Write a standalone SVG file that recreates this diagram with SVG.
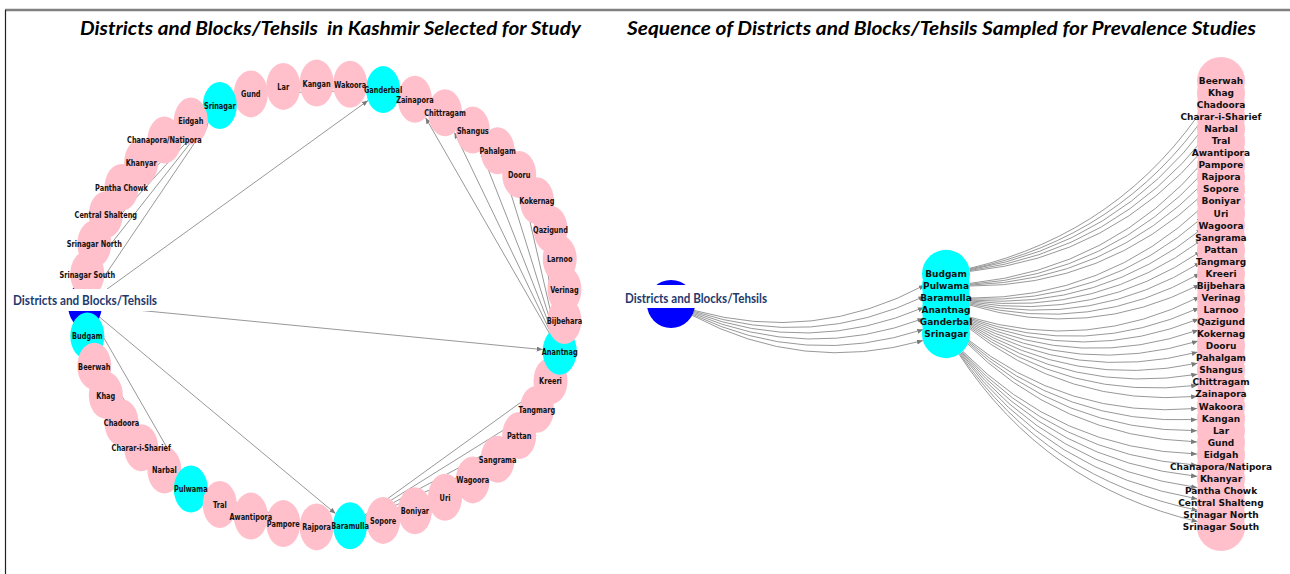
<svg xmlns="http://www.w3.org/2000/svg" width="1290" height="574" viewBox="0 0 1290 574">
<style>
.title{font-family:Lato,"Liberation Sans",sans-serif;font-weight:bold;font-style:italic;font-size:18px;fill:#000;text-anchor:middle;white-space:pre}
.root-label{font-family:Lato,"Open Sans","Liberation Sans",sans-serif;font-weight:bold;font-size:13px;fill:#1f3a6e;text-anchor:middle;dominant-baseline:central}
.tl{font-family:"DejaVu Sans",sans-serif;font-weight:bold;font-size:9.4px;fill:#111;text-anchor:middle;dominant-baseline:central}
.tr{font-family:"DejaVu Sans",sans-serif;font-weight:bold;font-size:9px;fill:#111;text-anchor:middle;dominant-baseline:central}
.p{fill:#ffc0cb}
.c{fill:#00ffff}
.b{fill:#0000ff}
.e line,.e path{stroke:#8c8c8c;stroke-width:0.9;fill:none;marker-end:url(#arr)}
</style>
<defs>
<marker id="arr" markerWidth="6" markerHeight="5" refX="6" refY="2.5" orient="auto" markerUnits="userSpaceOnUse"><path d="M0,0 L6,2.5 L0,5 z" fill="#7a7a7a"/></marker>
</defs>
<rect width="1290" height="574" fill="#fff"/>
<g id="frame">
<line x1="5" y1="10" x2="1290" y2="10" stroke="#808080" stroke-width="2.5"/>
<line x1="5.5" y1="10" x2="5.5" y2="574" stroke="#222" stroke-width="1.2"/>
<text class="title" x="330.5" y="35" textLength="501" lengthAdjust="spacingAndGlyphs" xml:space="preserve">Districts and Blocks/Tehsils  in Kashmir Selected for Study</text>
<text class="title" x="941.5" y="35" textLength="629" lengthAdjust="spacingAndGlyphs">Sequence of Districts and Blocks/Tehsils Sampled for Prevalence Studies</text>
</g>

<g id="left-connectors" class="e">
<line x1="85" y1="305" x2="85.5" y2="312.0"/>
<line x1="85" y1="305" x2="180.1" y2="470.4"/>
<line x1="85" y1="305" x2="335.5" y2="513.6"/>
<line x1="85" y1="305" x2="542.7" y2="349.6"/>
<line x1="85" y1="305" x2="368.0" y2="100.5"/>
<line x1="85" y1="305" x2="208.1" y2="122.9"/>
<line x1="87.3" y1="335.9" x2="89.0" y2="343.4"/>
<line x1="87.3" y1="335.9" x2="99.0" y2="373.3"/>
<line x1="87.3" y1="335.9" x2="113.2" y2="401.6"/>
<line x1="87.3" y1="335.9" x2="131.6" y2="427.9"/>
<line x1="87.3" y1="335.9" x2="153.7" y2="451.4"/>
<line x1="190.8" y1="489" x2="203.9" y2="496.0"/>
<line x1="190.8" y1="489" x2="234.6" y2="508.8"/>
<line x1="190.8" y1="489" x2="266.9" y2="517.5"/>
<line x1="190.8" y1="489" x2="300.0" y2="521.9"/>
<line x1="350.1" y1="525.8" x2="366.2" y2="523.2"/>
<line x1="350.1" y1="525.8" x2="398.1" y2="514.7"/>
<line x1="350.1" y1="525.8" x2="428.4" y2="502.3"/>
<line x1="350.1" y1="525.8" x2="456.4" y2="486.0"/>
<line x1="350.1" y1="525.8" x2="481.4" y2="466.5"/>
<line x1="350.1" y1="525.8" x2="503.3" y2="444.0"/>
<line x1="350.1" y1="525.8" x2="521.4" y2="418.9"/>
<line x1="350.1" y1="525.8" x2="535.4" y2="391.8"/>
<line x1="559.7" y1="351.2" x2="560.8" y2="344.0"/>
<line x1="559.7" y1="351.2" x2="562.6" y2="313.4"/>
<line x1="559.7" y1="351.2" x2="559.7" y2="282.8"/>
<line x1="559.7" y1="351.2" x2="552.3" y2="253.0"/>
<line x1="559.7" y1="351.2" x2="540.5" y2="224.3"/>
<line x1="559.7" y1="351.2" x2="524.4" y2="197.3"/>
<line x1="559.7" y1="351.2" x2="504.4" y2="172.8"/>
<line x1="559.7" y1="351.2" x2="481.0" y2="151.1"/>
<line x1="559.7" y1="351.2" x2="454.5" y2="132.6"/>
<line x1="559.7" y1="351.2" x2="425.6" y2="117.8"/>
<line x1="383.1" y1="89.6" x2="367.0" y2="87.0"/>
<line x1="383.1" y1="89.6" x2="333.6" y2="84.8"/>
<line x1="383.1" y1="89.6" x2="300.3" y2="86.9"/>
<line x1="383.1" y1="89.6" x2="267.8" y2="93.4"/>
<line x1="219.8" y1="105.5" x2="206.7" y2="112.5"/>
<line x1="219.8" y1="105.5" x2="180.0" y2="130.3"/>
<line x1="219.8" y1="105.5" x2="156.3" y2="151.4"/>
<line x1="219.8" y1="105.5" x2="136.1" y2="175.2"/>
<line x1="219.8" y1="105.5" x2="119.9" y2="201.2"/>
<line x1="219.8" y1="105.5" x2="107.7" y2="229.0"/>
<line x1="219.8" y1="105.5" x2="99.9" y2="258.0"/>
</g>

<g id="left-nodes">
<g id="L-root"><ellipse class="b" cx="85" cy="305" rx="17" ry="23.5"/></g>
<g id="L-Budgam"><ellipse class="c" cx="87.3" cy="335.9" rx="17" ry="23.5"/></g>
<g id="L-Beerwah"><ellipse class="p" cx="94.3" cy="366.2" rx="17" ry="23.5"/></g>
<g id="L-Khag"><ellipse class="p" cx="105.8" cy="395.3" rx="17" ry="23.5"/></g>
<g id="L-Chadoora"><ellipse class="p" cx="121.5" cy="422.6" rx="17" ry="23.5"/></g>
<g id="L-Charar-i-Sharief"><ellipse class="p" cx="141.2" cy="447.7" rx="17" ry="23.5"/></g>
<g id="L-Narbal"><ellipse class="p" cx="164.4" cy="470.0" rx="17" ry="23.5"/></g>
<g id="L-Pulwama"><ellipse class="c" cx="190.8" cy="489.0" rx="17" ry="23.5"/></g>
<g id="L-Tral"><ellipse class="p" cx="219.8" cy="504.5" rx="17" ry="23.5"/></g>
<g id="L-Awantipora"><ellipse class="p" cx="250.8" cy="516.1" rx="17" ry="23.5"/></g>
<g id="L-Pampore"><ellipse class="p" cx="283.3" cy="523.6" rx="17" ry="23.5"/></g>
<g id="L-Rajpora"><ellipse class="p" cx="316.6" cy="526.9" rx="17" ry="23.5"/></g>
<g id="L-Baramulla"><ellipse class="c" cx="350.1" cy="525.8" rx="17" ry="23.5"/></g>
<g id="L-Sopore"><ellipse class="p" cx="383.1" cy="520.4" rx="17" ry="23.5"/></g>
<g id="L-Boniyar"><ellipse class="p" cx="414.9" cy="510.8" rx="17" ry="23.5"/></g>
<g id="L-Uri"><ellipse class="p" cx="445.0" cy="497.3" rx="17" ry="23.5"/></g>
<g id="L-Wagoora"><ellipse class="p" cx="472.8" cy="479.9" rx="17" ry="23.5"/></g>
<g id="L-Sangrama"><ellipse class="p" cx="497.6" cy="459.2" rx="17" ry="23.5"/></g>
<g id="L-Pattan"><ellipse class="p" cx="519.2" cy="435.5" rx="17" ry="23.5"/></g>
<g id="L-Tangmarg"><ellipse class="p" cx="536.9" cy="409.2" rx="17" ry="23.5"/></g>
<g id="L-Kreeri"><ellipse class="p" cx="550.5" cy="380.9" rx="17" ry="23.5"/></g>
<g id="L-Anantnag"><ellipse class="c" cx="559.7" cy="351.2" rx="17" ry="23.5"/></g>
<g id="L-Bijbehara"><ellipse class="p" cx="564.4" cy="320.5" rx="17" ry="23.5"/></g>
<g id="L-Verinag"><ellipse class="p" cx="564.4" cy="289.5" rx="17" ry="23.5"/></g>
<g id="L-Larnoo"><ellipse class="p" cx="559.7" cy="258.8" rx="17" ry="23.5"/></g>
<g id="L-Qazigund"><ellipse class="p" cx="550.5" cy="229.1" rx="17" ry="23.5"/></g>
<g id="L-Kokernag"><ellipse class="p" cx="536.9" cy="200.8" rx="17" ry="23.5"/></g>
<g id="L-Dooru"><ellipse class="p" cx="519.2" cy="174.5" rx="17" ry="23.5"/></g>
<g id="L-Pahalgam"><ellipse class="p" cx="497.6" cy="150.8" rx="17" ry="23.5"/></g>
<g id="L-Shangus"><ellipse class="p" cx="472.8" cy="130.1" rx="17" ry="23.5"/></g>
<g id="L-Chittragam"><ellipse class="p" cx="445.0" cy="112.7" rx="17" ry="23.5"/></g>
<g id="L-Zainapora"><ellipse class="p" cx="414.9" cy="99.2" rx="17" ry="23.5"/></g>
<g id="L-Ganderbal"><ellipse class="c" cx="383.1" cy="89.6" rx="17" ry="23.5"/></g>
<g id="L-Wakoora"><ellipse class="p" cx="350.1" cy="84.2" rx="17" ry="23.5"/></g>
<g id="L-Kangan"><ellipse class="p" cx="316.6" cy="83.1" rx="17" ry="23.5"/></g>
<g id="L-Lar"><ellipse class="p" cx="283.3" cy="86.4" rx="17" ry="23.5"/></g>
<g id="L-Gund"><ellipse class="p" cx="250.8" cy="93.9" rx="17" ry="23.5"/></g>
<g id="L-Srinagar"><ellipse class="c" cx="219.8" cy="105.5" rx="17" ry="23.5"/></g>
<g id="L-Eidgah"><ellipse class="p" cx="190.8" cy="121.0" rx="17" ry="23.5"/></g>
<g id="L-Chanapora-Natipora"><ellipse class="p" cx="164.4" cy="140.0" rx="17" ry="23.5"/></g>
<g id="L-Khanyar"><ellipse class="p" cx="141.2" cy="162.3" rx="17" ry="23.5"/></g>
<g id="L-Pantha-Chowk"><ellipse class="p" cx="121.5" cy="187.4" rx="17" ry="23.5"/></g>
<g id="L-Central-Shalteng"><ellipse class="p" cx="105.8" cy="214.7" rx="17" ry="23.5"/></g>
<g id="L-Srinagar-North"><ellipse class="p" cx="94.3" cy="243.8" rx="17" ry="23.5"/></g>
<g id="L-Srinagar-South"><ellipse class="p" cx="87.3" cy="274.1" rx="17" ry="23.5"/></g>
</g>

<g id="left-labels">
<rect x="10" y="289" width="150" height="22" fill="#fff"/>
<text class="root-label" x="85" y="300" textLength="144" lengthAdjust="spacingAndGlyphs">Districts and Blocks/Tehsils</text>
<text class="tl" transform="translate(87.3 335.9) scale(0.7 1)">Budgam</text>
<text class="tl" transform="translate(94.3 366.2) scale(0.7 1)">Beerwah</text>
<text class="tl" transform="translate(105.8 395.3) scale(0.7 1)">Khag</text>
<text class="tl" transform="translate(121.5 422.6) scale(0.7 1)">Chadoora</text>
<text class="tl" transform="translate(141.2 447.7) scale(0.7 1)">Charar-i-Sharief</text>
<text class="tl" transform="translate(164.4 470.0) scale(0.7 1)">Narbal</text>
<text class="tl" transform="translate(190.8 489.0) scale(0.7 1)">Pulwama</text>
<text class="tl" transform="translate(219.8 504.5) scale(0.7 1)">Tral</text>
<text class="tl" transform="translate(250.8 516.1) scale(0.7 1)">Awantipora</text>
<text class="tl" transform="translate(283.3 523.6) scale(0.7 1)">Pampore</text>
<text class="tl" transform="translate(316.6 526.9) scale(0.7 1)">Rajpora</text>
<text class="tl" transform="translate(350.1 525.8) scale(0.7 1)">Baramulla</text>
<text class="tl" transform="translate(383.1 520.4) scale(0.7 1)">Sopore</text>
<text class="tl" transform="translate(414.9 510.8) scale(0.7 1)">Boniyar</text>
<text class="tl" transform="translate(445.0 497.3) scale(0.7 1)">Uri</text>
<text class="tl" transform="translate(472.8 479.9) scale(0.7 1)">Wagoora</text>
<text class="tl" transform="translate(497.6 459.2) scale(0.7 1)">Sangrama</text>
<text class="tl" transform="translate(519.2 435.5) scale(0.7 1)">Pattan</text>
<text class="tl" transform="translate(536.9 409.2) scale(0.7 1)">Tangmarg</text>
<text class="tl" transform="translate(550.5 380.9) scale(0.7 1)">Kreeri</text>
<text class="tl" transform="translate(559.7 351.2) scale(0.7 1)">Anantnag</text>
<text class="tl" transform="translate(564.4 320.5) scale(0.7 1)">Bijbehara</text>
<text class="tl" transform="translate(564.4 289.5) scale(0.7 1)">Verinag</text>
<text class="tl" transform="translate(559.7 258.8) scale(0.7 1)">Larnoo</text>
<text class="tl" transform="translate(550.5 229.1) scale(0.7 1)">Qazigund</text>
<text class="tl" transform="translate(536.9 200.8) scale(0.7 1)">Kokernag</text>
<text class="tl" transform="translate(519.2 174.5) scale(0.7 1)">Dooru</text>
<text class="tl" transform="translate(497.6 150.8) scale(0.7 1)">Pahalgam</text>
<text class="tl" transform="translate(472.8 130.1) scale(0.7 1)">Shangus</text>
<text class="tl" transform="translate(445.0 112.7) scale(0.7 1)">Chittragam</text>
<text class="tl" transform="translate(414.9 99.2) scale(0.7 1)">Zainapora</text>
<text class="tl" transform="translate(383.1 89.6) scale(0.7 1)">Ganderbal</text>
<text class="tl" transform="translate(350.1 84.2) scale(0.7 1)">Wakoora</text>
<text class="tl" transform="translate(316.6 83.1) scale(0.7 1)">Kangan</text>
<text class="tl" transform="translate(283.3 86.4) scale(0.7 1)">Lar</text>
<text class="tl" transform="translate(250.8 93.9) scale(0.7 1)">Gund</text>
<text class="tl" transform="translate(219.8 105.5) scale(0.7 1)">Srinagar</text>
<text class="tl" transform="translate(190.8 121.0) scale(0.7 1)">Eidgah</text>
<text class="tl" transform="translate(164.4 140.0) scale(0.7 1)">Chanapora/Natipora</text>
<text class="tl" transform="translate(141.2 162.3) scale(0.7 1)">Khanyar</text>
<text class="tl" transform="translate(121.5 187.4) scale(0.7 1)">Pantha Chowk</text>
<text class="tl" transform="translate(105.8 214.7) scale(0.7 1)">Central Shalteng</text>
<text class="tl" transform="translate(94.3 243.8) scale(0.7 1)">Srinagar North</text>
<text class="tl" transform="translate(87.3 274.1) scale(0.7 1)">Srinagar South</text>
</g>

<g id="right-connectors" class="e">
<path d="M694.1,310.4 Q814.5,343.9 924.8,285.1"/>
<path d="M693.8,311.4 Q812.1,350.0 924.4,296.3"/>
<path d="M693.5,312.4 Q809.7,356.0 923.9,307.4"/>
<path d="M693.1,313.4 Q807.3,362.0 923.5,318.5"/>
<path d="M692.6,314.4 Q804.9,368.1 923.2,329.5"/>
<path d="M692.2,315.3 Q802.5,374.1 922.9,340.6"/>
<path d="M969.4,268.4 Q1122.1,232.4 1207.9,101.0"/>
<path d="M969.5,269.1 Q1119.7,238.4 1207.3,112.6"/>
<path d="M969.7,269.8 Q1117.3,244.4 1206.7,124.3"/>
<path d="M969.8,270.6 Q1114.9,250.5 1206.1,135.9"/>
<path d="M969.9,271.4 Q1112.4,256.5 1205.4,147.4"/>
<path d="M969.9,283.4 Q1112.4,268.6 1205.4,159.5"/>
<path d="M969.9,284.3 Q1110.0,274.6 1204.8,171.0"/>
<path d="M970.0,285.1 Q1107.6,280.6 1204.2,182.4"/>
<path d="M970.0,286.0 Q1105.2,286.6 1203.6,193.8"/>
<path d="M970.0,298.1 Q1105.2,298.7 1203.6,205.9"/>
<path d="M970.0,299.0 Q1102.8,304.7 1202.9,217.3"/>
<path d="M969.9,300.0 Q1100.4,310.8 1202.3,228.6"/>
<path d="M969.8,300.9 Q1098.0,316.8 1201.7,239.9"/>
<path d="M969.7,301.9 Q1095.6,322.8 1201.1,251.2"/>
<path d="M969.5,302.9 Q1093.2,328.9 1200.6,262.4"/>
<path d="M969.3,303.9 Q1090.7,334.9 1200.1,273.5"/>
<path d="M969.0,304.9 Q1088.3,340.9 1199.6,284.7"/>
<path d="M969.0,317.0 Q1088.3,353.0 1199.6,296.7"/>
<path d="M968.7,318.0 Q1085.9,359.0 1199.1,307.9"/>
<path d="M968.3,318.9 Q1083.5,365.0 1198.7,318.9"/>
<path d="M967.9,319.9 Q1081.1,371.1 1198.4,330.0"/>
<path d="M967.4,320.9 Q1078.7,377.1 1198.0,341.1"/>
<path d="M966.9,321.8 Q1076.3,383.1 1197.7,352.1"/>
<path d="M966.4,322.7 Q1073.9,389.2 1197.5,363.2"/>
<path d="M965.9,323.5 Q1071.4,395.2 1197.3,374.3"/>
<path d="M965.3,324.3 Q1069.0,401.2 1197.2,385.3"/>
<path d="M964.7,325.1 Q1066.6,407.2 1197.1,396.4"/>
<path d="M964.7,337.2 Q1066.6,419.3 1197.1,408.5"/>
<path d="M964.1,337.9 Q1064.2,425.3 1197.0,419.6"/>
<path d="M963.5,338.6 Q1061.8,431.4 1197.0,430.7"/>
<path d="M962.8,339.2 Q1059.4,437.4 1197.0,441.9"/>
<path d="M962.8,351.3 Q1059.4,449.5 1197.0,454.0"/>
<path d="M962.2,351.9 Q1057.0,455.5 1197.1,465.2"/>
<path d="M961.6,352.4 Q1054.6,461.5 1197.1,476.4"/>
<path d="M960.9,352.9 Q1052.1,467.5 1197.2,487.6"/>
<path d="M960.3,353.4 Q1049.7,473.6 1197.4,498.9"/>
<path d="M959.7,353.8 Q1047.3,479.6 1197.5,510.3"/>
<path d="M959.1,354.3 Q1045.1,485.6 1197.6,521.6"/>
</g>

<g id="right-nodes">
<g id="R-root"><circle class="b" cx="671" cy="304" r="24"/></g>
<g id="R-Budgam"><circle class="c" cx="946" cy="273.85" r="24"/></g>
<g id="R-Pulwama"><circle class="c" cx="946" cy="285.91" r="24"/></g>
<g id="R-Baramulla"><circle class="c" cx="946" cy="297.97" r="24"/></g>
<g id="R-Anantnag"><circle class="c" cx="946" cy="310.03" r="24"/></g>
<g id="R-Ganderbal"><circle class="c" cx="946" cy="322.09" r="24"/></g>
<g id="R-Srinagar"><circle class="c" cx="946" cy="334.15" r="24"/></g>
<g id="R-Beerwah"><circle class="p" cx="1221" cy="80.89" r="24"/></g>
<g id="R-Khag"><circle class="p" cx="1221" cy="92.95" r="24"/></g>
<g id="R-Chadoora"><circle class="p" cx="1221" cy="105.01" r="24"/></g>
<g id="R-Charar-i-Sharief"><circle class="p" cx="1221" cy="117.07" r="24"/></g>
<g id="R-Narbal"><circle class="p" cx="1221" cy="129.13" r="24"/></g>
<g id="R-Tral"><circle class="p" cx="1221" cy="141.19" r="24"/></g>
<g id="R-Awantipora"><circle class="p" cx="1221" cy="153.25" r="24"/></g>
<g id="R-Pampore"><circle class="p" cx="1221" cy="165.31" r="24"/></g>
<g id="R-Rajpora"><circle class="p" cx="1221" cy="177.37" r="24"/></g>
<g id="R-Sopore"><circle class="p" cx="1221" cy="189.43" r="24"/></g>
<g id="R-Boniyar"><circle class="p" cx="1221" cy="201.49" r="24"/></g>
<g id="R-Uri"><circle class="p" cx="1221" cy="213.55" r="24"/></g>
<g id="R-Wagoora"><circle class="p" cx="1221" cy="225.61" r="24"/></g>
<g id="R-Sangrama"><circle class="p" cx="1221" cy="237.67" r="24"/></g>
<g id="R-Pattan"><circle class="p" cx="1221" cy="249.73" r="24"/></g>
<g id="R-Tangmarg"><circle class="p" cx="1221" cy="261.79" r="24"/></g>
<g id="R-Kreeri"><circle class="p" cx="1221" cy="273.85" r="24"/></g>
<g id="R-Bijbehara"><circle class="p" cx="1221" cy="285.91" r="24"/></g>
<g id="R-Verinag"><circle class="p" cx="1221" cy="297.97" r="24"/></g>
<g id="R-Larnoo"><circle class="p" cx="1221" cy="310.03" r="24"/></g>
<g id="R-Qazigund"><circle class="p" cx="1221" cy="322.09" r="24"/></g>
<g id="R-Kokernag"><circle class="p" cx="1221" cy="334.15" r="24"/></g>
<g id="R-Dooru"><circle class="p" cx="1221" cy="346.21" r="24"/></g>
<g id="R-Pahalgam"><circle class="p" cx="1221" cy="358.27" r="24"/></g>
<g id="R-Shangus"><circle class="p" cx="1221" cy="370.33" r="24"/></g>
<g id="R-Chittragam"><circle class="p" cx="1221" cy="382.39" r="24"/></g>
<g id="R-Zainapora"><circle class="p" cx="1221" cy="394.45" r="24"/></g>
<g id="R-Wakoora"><circle class="p" cx="1221" cy="406.51" r="24"/></g>
<g id="R-Kangan"><circle class="p" cx="1221" cy="418.57" r="24"/></g>
<g id="R-Lar"><circle class="p" cx="1221" cy="430.63" r="24"/></g>
<g id="R-Gund"><circle class="p" cx="1221" cy="442.69" r="24"/></g>
<g id="R-Eidgah"><circle class="p" cx="1221" cy="454.75" r="24"/></g>
<g id="R-Chanapora-Natipora"><circle class="p" cx="1221" cy="466.81" r="24"/></g>
<g id="R-Khanyar"><circle class="p" cx="1221" cy="478.87" r="24"/></g>
<g id="R-Pantha-Chowk"><circle class="p" cx="1221" cy="490.93" r="24"/></g>
<g id="R-Central-Shalteng"><circle class="p" cx="1221" cy="502.99" r="24"/></g>
<g id="R-Srinagar-North"><circle class="p" cx="1221" cy="515.05" r="24"/></g>
<g id="R-Srinagar-South"><circle class="p" cx="1221" cy="527.11" r="24"/></g>
</g>

<g id="right-labels">
<rect x="620" y="285" width="152" height="23" fill="#fff"/>
<text class="root-label" x="696" y="298" textLength="142" lengthAdjust="spacingAndGlyphs">Districts and Blocks/Tehsils</text>
<text class="tr" x="946" y="273.85">Budgam</text>
<text class="tr" x="946" y="285.91">Pulwama</text>
<text class="tr" x="946" y="297.97">Baramulla</text>
<text class="tr" x="946" y="310.03">Anantnag</text>
<text class="tr" x="946" y="322.09">Ganderbal</text>
<text class="tr" x="946" y="334.15">Srinagar</text>
<text class="tr" x="1221" y="80.89">Beerwah</text>
<text class="tr" x="1221" y="92.95">Khag</text>
<text class="tr" x="1221" y="105.01">Chadoora</text>
<text class="tr" x="1221" y="117.07">Charar-i-Sharief</text>
<text class="tr" x="1221" y="129.13">Narbal</text>
<text class="tr" x="1221" y="141.19">Tral</text>
<text class="tr" x="1221" y="153.25">Awantipora</text>
<text class="tr" x="1221" y="165.31">Pampore</text>
<text class="tr" x="1221" y="177.37">Rajpora</text>
<text class="tr" x="1221" y="189.43">Sopore</text>
<text class="tr" x="1221" y="201.49">Boniyar</text>
<text class="tr" x="1221" y="213.55">Uri</text>
<text class="tr" x="1221" y="225.61">Wagoora</text>
<text class="tr" x="1221" y="237.67">Sangrama</text>
<text class="tr" x="1221" y="249.73">Pattan</text>
<text class="tr" x="1221" y="261.79">Tangmarg</text>
<text class="tr" x="1221" y="273.85">Kreeri</text>
<text class="tr" x="1221" y="285.91">Bijbehara</text>
<text class="tr" x="1221" y="297.97">Verinag</text>
<text class="tr" x="1221" y="310.03">Larnoo</text>
<text class="tr" x="1221" y="322.09">Qazigund</text>
<text class="tr" x="1221" y="334.15">Kokernag</text>
<text class="tr" x="1221" y="346.21">Dooru</text>
<text class="tr" x="1221" y="358.27">Pahalgam</text>
<text class="tr" x="1221" y="370.33">Shangus</text>
<text class="tr" x="1221" y="382.39">Chittragam</text>
<text class="tr" x="1221" y="394.45">Zainapora</text>
<text class="tr" x="1221" y="406.51">Wakoora</text>
<text class="tr" x="1221" y="418.57">Kangan</text>
<text class="tr" x="1221" y="430.63">Lar</text>
<text class="tr" x="1221" y="442.69">Gund</text>
<text class="tr" x="1221" y="454.75">Eidgah</text>
<text class="tr" x="1221" y="466.81">Chanapora/Natipora</text>
<text class="tr" x="1221" y="478.87">Khanyar</text>
<text class="tr" x="1221" y="490.93">Pantha Chowk</text>
<text class="tr" x="1221" y="502.99">Central Shalteng</text>
<text class="tr" x="1221" y="515.05">Srinagar North</text>
<text class="tr" x="1221" y="527.11">Srinagar South</text>
</g>
</svg>
